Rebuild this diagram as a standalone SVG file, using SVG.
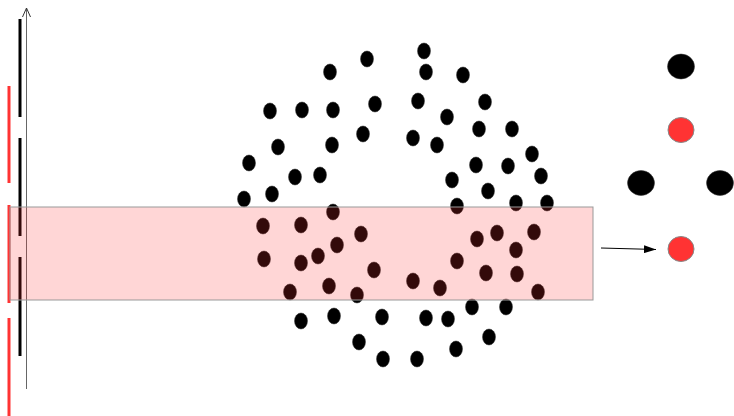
<svg xmlns="http://www.w3.org/2000/svg" width="734" height="416" viewBox="0 0 734 416">
<defs>
<style>
.d{fill:#000;stroke:#333;stroke-width:0.5}
.bk{stroke:#000;stroke-width:3}
.rd{stroke:#ff3333;stroke-width:3}
.big{fill:#000;stroke:#333;stroke-width:0.5}
.red{fill:#ff3333;stroke:#888;stroke-width:1}
</style>
<marker id="ah" viewBox="0 0 12 8" refX="12" refY="4" markerWidth="12" markerHeight="8" markerUnits="userSpaceOnUse" orient="auto">
<path d="M0,0 L12,4 L0,8 z" fill="#000"/>
</marker>
</defs>
<rect width="734" height="416" fill="#fff"/>
<g id="dashes">
<line class="bk" x1="20" y1="19" x2="20" y2="117"/>
<line class="bk" x1="20" y1="138" x2="20" y2="236"/>
<line class="bk" x1="20" y1="257" x2="20" y2="356"/>
<line class="rd" x1="9" y1="86" x2="9" y2="183"/>
<line class="rd" x1="9" y1="205" x2="9" y2="303"/>
<line class="rd" x1="9" y1="318" x2="9" y2="416"/>
</g>
<g id="connectors">
<line x1="26.5" y1="389" x2="26.5" y2="8" stroke="#666" stroke-width="1"/>
<polyline points="22.5,17 26.5,8 30.5,17" fill="none" stroke="#333" stroke-width="1"/>
<line x1="601" y1="248" x2="656" y2="249.5" stroke="#000" stroke-width="1" marker-end="url(#ah)"/>
</g>
<g id="ring">
<ellipse class="d" cx="424" cy="51" rx="6.5" ry="8"/>
<ellipse class="d" cx="367" cy="59" rx="6.5" ry="8"/>
<ellipse class="d" cx="330" cy="72" rx="6.5" ry="8"/>
<ellipse class="d" cx="426" cy="72" rx="6.5" ry="8"/>
<ellipse class="d" cx="463" cy="75" rx="6.5" ry="8"/>
<ellipse class="d" cx="375" cy="104" rx="6.5" ry="8"/>
<ellipse class="d" cx="418" cy="101" rx="6.5" ry="8"/>
<ellipse class="d" cx="485" cy="102" rx="6.5" ry="8"/>
<ellipse class="d" cx="270" cy="111" rx="6.5" ry="8"/>
<ellipse class="d" cx="302" cy="110" rx="6.5" ry="8"/>
<ellipse class="d" cx="333" cy="110" rx="6.5" ry="8"/>
<ellipse class="d" cx="447" cy="117" rx="6.5" ry="8"/>
<ellipse class="d" cx="363" cy="134" rx="6.5" ry="8"/>
<ellipse class="d" cx="413" cy="138" rx="6.5" ry="8"/>
<ellipse class="d" cx="437" cy="145" rx="6.5" ry="8"/>
<ellipse class="d" cx="479" cy="129" rx="6.5" ry="8"/>
<ellipse class="d" cx="512" cy="129" rx="6.5" ry="8"/>
<ellipse class="d" cx="278" cy="147" rx="6.5" ry="8"/>
<ellipse class="d" cx="332" cy="145" rx="6.5" ry="8"/>
<ellipse class="d" cx="249" cy="163" rx="6.5" ry="8"/>
<ellipse class="d" cx="295" cy="177" rx="6.5" ry="8"/>
<ellipse class="d" cx="320" cy="175" rx="6.5" ry="8"/>
<ellipse class="d" cx="476" cy="165" rx="6.5" ry="8"/>
<ellipse class="d" cx="508" cy="166" rx="6.5" ry="8"/>
<ellipse class="d" cx="532" cy="154" rx="6.5" ry="8"/>
<ellipse class="d" cx="452" cy="180" rx="6.5" ry="8"/>
<ellipse class="d" cx="541" cy="176" rx="6.5" ry="8"/>
<ellipse class="d" cx="244" cy="199" rx="6.5" ry="8"/>
<ellipse class="d" cx="272" cy="194" rx="6.5" ry="8"/>
<ellipse class="d" cx="488" cy="191" rx="6.5" ry="8"/>
<ellipse class="d" cx="516" cy="203" rx="6.5" ry="8"/>
<ellipse class="d" cx="547" cy="203" rx="6.5" ry="8"/>
<ellipse class="d" cx="457" cy="206" rx="6.5" ry="8"/>
<ellipse class="d" cx="333" cy="212" rx="6.5" ry="8"/>
<ellipse class="d" cx="263" cy="226" rx="6.5" ry="8"/>
<ellipse class="d" cx="301" cy="225" rx="6.5" ry="8"/>
<ellipse class="d" cx="361" cy="234" rx="6.5" ry="8"/>
<ellipse class="d" cx="337" cy="245" rx="6.5" ry="8"/>
<ellipse class="d" cx="264" cy="259" rx="6.5" ry="8"/>
<ellipse class="d" cx="301" cy="263" rx="6.5" ry="8"/>
<ellipse class="d" cx="318" cy="256" rx="6.5" ry="8"/>
<ellipse class="d" cx="374" cy="270" rx="6.5" ry="8"/>
<ellipse class="d" cx="290" cy="292" rx="6.5" ry="8"/>
<ellipse class="d" cx="329" cy="286" rx="6.5" ry="8"/>
<ellipse class="d" cx="357" cy="295" rx="6.5" ry="8"/>
<ellipse class="d" cx="477" cy="239" rx="6.5" ry="8"/>
<ellipse class="d" cx="497" cy="233" rx="6.5" ry="8"/>
<ellipse class="d" cx="534" cy="232" rx="6.5" ry="8"/>
<ellipse class="d" cx="516" cy="250" rx="6.5" ry="8"/>
<ellipse class="d" cx="457" cy="261" rx="6.5" ry="8"/>
<ellipse class="d" cx="486" cy="273" rx="6.5" ry="8"/>
<ellipse class="d" cx="517" cy="274" rx="6.5" ry="8"/>
<ellipse class="d" cx="413" cy="281" rx="6.5" ry="8"/>
<ellipse class="d" cx="440" cy="288" rx="6.5" ry="8"/>
<ellipse class="d" cx="538" cy="292" rx="6.5" ry="8"/>
<ellipse class="d" cx="301" cy="321" rx="6.5" ry="8"/>
<ellipse class="d" cx="334" cy="316" rx="6.5" ry="8"/>
<ellipse class="d" cx="382" cy="317" rx="6.5" ry="8"/>
<ellipse class="d" cx="359" cy="342" rx="6.5" ry="8"/>
<ellipse class="d" cx="383" cy="359" rx="6.5" ry="8"/>
<ellipse class="d" cx="472" cy="307" rx="6.5" ry="8"/>
<ellipse class="d" cx="506" cy="307" rx="6.5" ry="8"/>
<ellipse class="d" cx="426" cy="318" rx="6.5" ry="8"/>
<ellipse class="d" cx="448" cy="319" rx="6.5" ry="8"/>
<ellipse class="d" cx="489" cy="337" rx="6.5" ry="8"/>
<ellipse class="d" cx="456" cy="349" rx="6.5" ry="8"/>
<ellipse class="d" cx="417" cy="359" rx="6.5" ry="8"/>
</g>
<g id="band">
<rect x="10" y="207" width="583" height="93" fill="#ff3333" fill-opacity="0.2" stroke="#999" stroke-width="1"/>
</g>
<g id="top-black"><ellipse class="big" cx="681" cy="66.5" rx="13.5" ry="12.5"/></g>
<g id="top-red"><ellipse class="red" cx="681" cy="130" rx="13" ry="12.5"/></g>
<g id="left-black"><ellipse class="big" cx="641" cy="183" rx="13.5" ry="12.5"/></g>
<g id="right-black"><ellipse class="big" cx="720" cy="183" rx="13.5" ry="12.5"/></g>
<g id="bottom-red"><ellipse class="red" cx="681" cy="249" rx="13" ry="12.5"/></g>
</svg>
